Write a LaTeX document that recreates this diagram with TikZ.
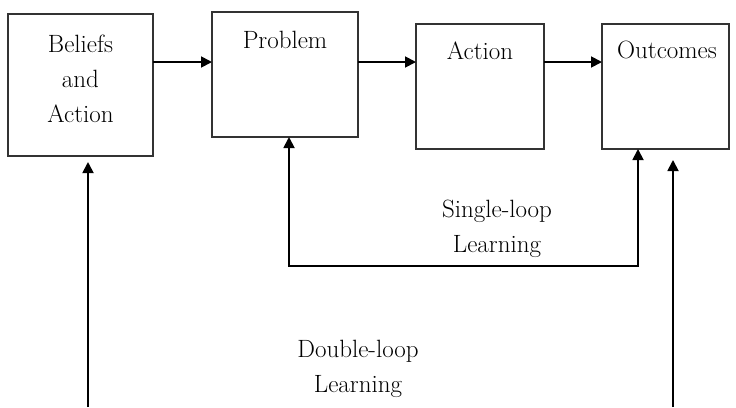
\documentclass[tikz,border=0pt]{standalone}
\usetikzlibrary{arrows.meta}
\begin{document}
\begin{tikzpicture}[x=1pt,y=-1pt,
  box/.style={draw=black!80,line width=1.8pt,rectangle,inner sep=0pt,outer sep=0pt},
  lbl/.style={font=\fontsize{25}{35}\selectfont,align=center,inner sep=0pt},
  arr/.style={line width=1.8pt,-{Triangle[length=11pt,width=11pt]}},
  loop/.style={line width=1.8pt,{Triangle[length=11pt,width=11pt]}-{Triangle[length=11pt,width=11pt]}}]
  \useasboundingbox[fill=white] (0,0) rectangle (736,407);

  % the four stages
  \node[box,minimum width=145pt,minimum height=142pt] (b1) at (80.5,85) {};
  \node[box,minimum width=146pt,minimum height=125pt] (b2) at (285,74.5) {};
  \node[box,minimum width=128pt,minimum height=125pt] (b3) at (480,86.5) {};
  \node[box,minimum width=127pt,minimum height=125pt] (b4) at (665.5,86.5) {};

  \node[lbl] (t1) at (80.5,79) {Beliefs\\and\\Action};
  \node[lbl] (t2) at (285,40) {Problem};
  \node[lbl] (t3) at (480,51) {Action};
  \node[lbl] (t4) at (667,50) {Outcomes};

  % forward flow
  \coordinate (row) at (0,62);
  \draw[arr] (b1.east |- row) -- (b2.west |- row);
  \draw[arr] (b2.east |- row) -- (b3.west |- row);
  \draw[arr] (b3.east |- row) -- (b4.west |- row);

  % single-loop feedback
  \coordinate (sl) at (289,266);
  \coordinate (sr) at (638,266);
  \draw[loop] (b2.south -| sl) -- (sl) -- (sr) -- (b4.south -| sr);
  \node[lbl] (st) at (497,229) {Single-loop\\Learning};

  % double-loop feedback
  \coordinate (dl0) at (88,407);
  \coordinate (dl1) at (88,162);
  \coordinate (dr0) at (673,407);
  \coordinate (dr1) at (673,160);
  \draw[arr] (dl0) -- (dl1);
  \draw[arr] (dr0) -- (dr1);
  \node[lbl] (dt) at (358,369) {Double-loop\\Learning};
\end{tikzpicture}
\end{document}
